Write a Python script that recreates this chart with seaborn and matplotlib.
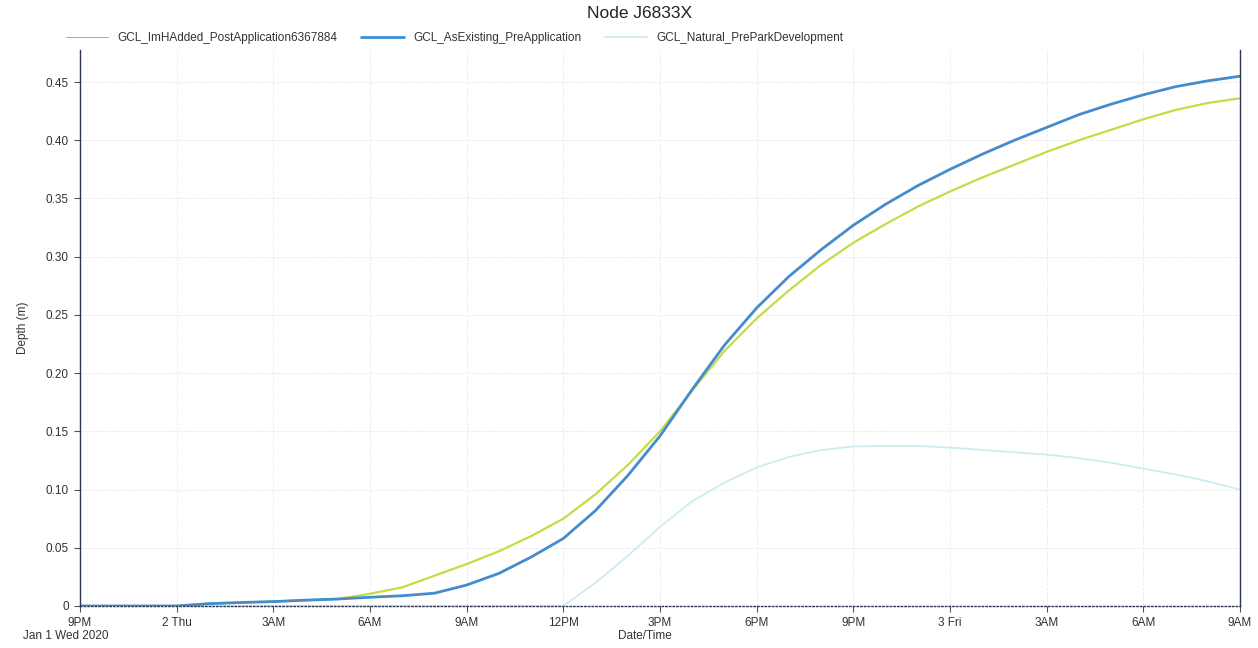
import pandas as pd
import matplotlib.pyplot as plt
import seaborn as sns

# hourly samples from Jan 1 2020 21:00 to Jan 3 2020 09:00
times = pd.date_range("2020-01-01 21:00", "2020-01-03 09:00", freq="h")

as_existing = [0, 0, 0, 0, 0.002, 0.003, 0.0038, 0.005, 0.006, 0.0075, 0.0088, 0.011,
               0.018, 0.028, 0.042, 0.058, 0.082, 0.112, 0.146, 0.186, 0.224, 0.256,
               0.283, 0.306, 0.327, 0.345, 0.361, 0.375, 0.388, 0.400, 0.411, 0.422,
               0.431, 0.439, 0.446, 0.451, 0.455]
imh_added = [0, 0, 0, 0, 0.002, 0.003, 0.0038, 0.005, 0.006, 0.0075, 0.0088, 0.011,
             0.018, 0.028, 0.042, 0.058, 0.082, 0.112, 0.146, 0.186, 0.224, 0.256,
             0.283, 0.306, 0.327, 0.345, 0.361, 0.375, 0.388, 0.400, 0.411, 0.422,
             0.431, 0.439, 0.446, 0.451, 0.455]
green_series = [0, 0, 0, 0, 0.002, 0.003, 0.0038, 0.005, 0.006, 0.0105, 0.016, 0.026,
                0.036, 0.047, 0.060, 0.075, 0.096, 0.121, 0.150, 0.185, 0.219, 0.247,
                0.271, 0.293, 0.312, 0.328, 0.343, 0.356, 0.368, 0.379, 0.390, 0.400,
                0.409, 0.418, 0.426, 0.432, 0.436]
natural = [0, 0, 0, 0, 0, 0, 0, 0, 0, 0, 0, 0,
           0, 0, 0, 0, 0.02, 0.043, 0.068, 0.090, 0.106, 0.119,
           0.128, 0.134, 0.137, 0.1375, 0.1375, 0.136, 0.134, 0.132, 0.130, 0.127,
           0.123, 0.118, 0.113, 0.107, 0.100]

labels = ["GCL_ImHAdded_PostApplication6367884", "GCL_AsExisting_PreApplication",
          "GCL_Natural_PreParkDevelopment"]
tick_times = pd.date_range("2020-01-01 21:00", "2020-01-03 09:00", freq="3h")
tick_labels = ["9PM", "2 Thu", "3AM", "6AM", "9AM", "12PM", "3PM", "6PM", "9PM",
               "3 Fri", "3AM", "6AM", "9AM"]
y_ticks = [0, 0.05, 0.10, 0.15, 0.20, 0.25, 0.30, 0.35, 0.40, 0.45]

sns.set_style("white")
plt.rcParams['font.family'] = ['Liberation Sans', 'DejaVu Sans']

df = pd.DataFrame({"time": times, "imh": imh_added, "existing": as_existing,
                   "green": green_series, "natural": natural})

fig = plt.figure(figsize=(12.58, 6.48), dpi=100)
ax = fig.add_axes([80 / 1258, 42 / 648, 1160 / 1258, 556 / 648])

sns.lineplot(data=df, x="time", y="natural", color="#cdecf1", lw=1.3, ax=ax, label=labels[2])
sns.lineplot(data=df, x="time", y="green", color="#c4dc45", lw=1.6, ax=ax, label="_nolegend_")
sns.lineplot(data=df, x="time", y="existing", color="#3a8edb", lw=2.0, ax=ax, label=labels[1])
sns.lineplot(data=df, x="time", y="imh", color="#808080", lw=0.5, alpha=0.6, ax=ax,
             label=labels[0])

ax.set_xlim(times[0], times[-1])
ax.set_ylim(0, 0.4775)
ax.set_xticks(tick_times)
ax.set_xticklabels(tick_labels)
ax.set_yticks(y_ticks)
ax.set_yticklabels(["0" if v == 0 else f"{v:.2f}" for v in y_ticks])
ax.tick_params(axis="both", length=4, width=0.8, color="#555555", labelsize=8.5,
               labelcolor="#333333", direction="out", bottom=True, left=True, pad=4)
ax.grid(True, color="#ededed", linestyle="--", linewidth=0.7)

for side in ["left", "right", "bottom"]:
    ax.spines[side].set_color("#2a3450")
    ax.spines[side].set_linewidth(1.0)
ax.spines["bottom"].set_linestyle(":")
ax.spines["top"].set_visible(False)

ax.set_xlabel("")
ax.set_ylabel("Depth (m)", fontsize=8.5, color="#333333", labelpad=12)
fig.text(645 / 1258, 1 - 636 / 648, "Date/Time", fontsize=8.5, color="#333333",
         ha="center", va="center")
fig.text(66 / 1258, 1 - 636 / 648, "Jan 1 Wed 2020", fontsize=8.5, color="#333333",
         ha="center", va="center")
fig.suptitle("Node J6833X", x=640 / 1258, y=1 - 14 / 648, va="center",
             fontsize=12.5, color="#222222")

handles, labs = ax.get_legend_handles_labels()
order = [labs.index(l) for l in labels]
leg = ax.legend([handles[i] for i in order], labels, loc="center left", ncol=3,
                bbox_to_anchor=(55 / 1258, 1 - 38 / 648), bbox_transform=fig.transFigure,
                frameon=False, fontsize=8.5, handlelength=3.6, handletextpad=0.8,
                columnspacing=2.0, labelcolor="#333333")
leg.legend_handles[0].set_alpha(1.0)

fig.savefig("out.png", dpi=100)
